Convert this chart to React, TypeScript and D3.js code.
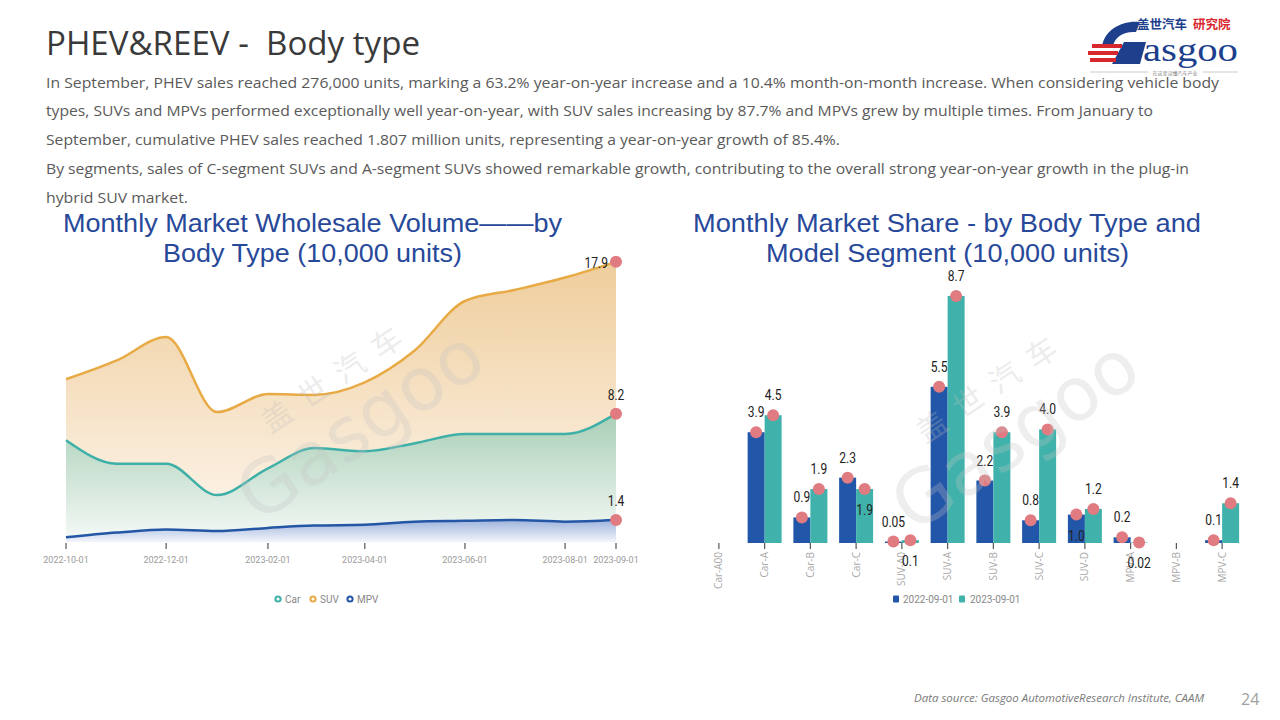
import React from 'react';
import * as d3 from 'd3';

// ---------- Data ----------
const months = ['2022-10-01','2022-11-01','2022-12-01','2023-01-01','2023-02-01','2023-03-01','2023-04-01','2023-05-01','2023-06-01','2023-07-01','2023-08-01','2023-09-01'];
const carValues = [6.5, 5.0, 5.0, 3.0, 4.7, 6.0, 5.8, 6.3, 6.9, 6.9, 6.9, 8.2];
const suvValues = [10.4, 11.6, 13.1, 8.3, 9.45, 9.4, 10.2, 12.2, 15.4, 16.1, 16.9, 17.9];
const mpvValues = [0.3, 0.6, 0.8, 0.7, 0.9, 1.05, 1.1, 1.3, 1.35, 1.4, 1.3, 1.4];
const timeTicks = ['2022-10-01','2022-12-01','2023-02-01','2023-04-01','2023-06-01','2023-08-01','2023-09-01'];

const segments = ['Car-A00','Car-A','Car-B','Car-C','SUV-A0','SUV-A','SUV-B','SUV-C','SUV-D','MPV-A','MPV-B','MPV-C'];
const sales2022: (number | null)[] = [null, 3.9, 0.9, 2.3, 0.05, 5.5, 2.2, 0.8, 1.0, 0.2, null, 0.1];
const sales2023: (number | null)[] = [null, 4.5, 1.9, 1.9, 0.1, 8.7, 3.9, 4.0, 1.2, 0.02, null, 1.4];
const barSeriesNames = ['2022-09-01', '2023-09-01'];

// label placement (style): 't' above the point, 'b' below
const place2022 = ['t','t','t','t','t','t','t','t','b','t','t','t'];
const place2023 = ['t','t','t','b','b','t','t','t','t','b','t','t'];

const paragraph = [
  'In September, PHEV sales reached 276,000 units, marking a 63.2% year-on-year increase and a 10.4% month-on-month increase. When considering vehicle body',
  'types, SUVs and MPVs performed exceptionally well year-on-year, with SUV sales increasing by 87.7% and MPVs grew by multiple times. From January to',
  'September, cumulative PHEV sales reached 1.807 million units, representing a year-on-year growth of 85.4%.',
  'By segments, sales of C-segment SUVs and A-segment SUVs showed remarkable growth, contributing to the overall strong year-on-year growth in the plug-in',
  'hybrid SUV market.',
];
const paragraphWidths = [1173, 1107, 794, 1143, 142];

// ---------- Styles ----------
const COND = "'Liberation Sans Narrow', 'Roboto', sans-serif";
const SANS = "'Open Sans', 'Noto Sans', sans-serif";
const TITLE_FONT = "'Liberation Sans', 'Noto Sans', sans-serif";
const C_CAR = '#3fb0a8';
const C_SUV = '#e8aa45';
const C_MPV = '#2456a6';
const C_BAR1 = '#2256a8';
const C_BAR2 = '#40b2ab';
const C_DOT = '#e07b82';
const TITLE_COLOR = '#28499a';

const parse = d3.timeParse('%Y-%m-%d');
const fmtBar = (v: number) => (v < 0.1 ? v.toFixed(2) : v.toFixed(1));

function Num({ x, y, anchor, children }: { x: number; y: number; anchor: string; children: React.ReactNode }) {
  return (
    <text transform={`translate(${x},${y}) scale(0.86,1.08)`} textAnchor={anchor} fontFamily={COND} fontSize={14} fill="#222">{children}</text>
  );
}

function Watermark({ x, y, angle }: { x: number; y: number; angle: number }) {
  return (
    <g transform={`translate(${x},${y}) rotate(${angle})`} opacity={0.28} pointerEvents="none">
      <text x={-10} y={-38} fontFamily="'Noto Sans CJK SC', sans-serif" fontSize={30} fill="#bdbdbd" letterSpacing={14}>盖世汽车</text>
      <text x={-70} y={30} fontFamily="'DejaVu Sans', sans-serif" fontSize={74} fill="#c4c4c4">Gasgoo</text>
    </g>
  );
}

function LeftChart() {
  const dates = months.map((m) => parse(m)!);
  const x = d3.scaleTime().domain([dates[0], dates[dates.length - 1]]).range([66, 616]);
  const y = d3.scaleLinear().domain([0, 20]).range([542, 229]);
  const mk = (vals: number[]) => vals.map((v, i) => ({ d: dates[i], v }));
  const area = d3.area<{ d: Date; v: number }>().x((p) => x(p.d)).y0(y(0)).y1((p) => y(p.v)).curve(d3.curveMonotoneX);
  const line = d3.line<{ d: Date; v: number }>().x((p) => x(p.d)).y((p) => y(p.v)).curve(d3.curveMonotoneX);
  const series = [
    { name: 'SUV', vals: suvValues, color: C_SUV, grad: 'gSuv' },
    { name: 'Car', vals: carValues, color: C_CAR, grad: 'gCar' },
    { name: 'MPV', vals: mpvValues, color: C_MPV, grad: 'gMpv' },
  ];
  const last = dates.length - 1;
  const legend = [
    { name: 'Car', color: C_CAR, x: 278 },
    { name: 'SUV', color: C_SUV, x: 313 },
    { name: 'MPV', color: C_MPV, x: 350 },
  ];
  return (
    <g>
      <defs>
        <linearGradient id="gSuv" gradientUnits="userSpaceOnUse" x1={0} y1={y(18)} x2={0} y2={y(0)}>
          <stop offset="0" stopColor="#efcd9b" />
          <stop offset="1" stopColor="#fdf7f0" />
        </linearGradient>
        <linearGradient id="gCar" gradientUnits="userSpaceOnUse" x1={0} y1={y(8.2)} x2={0} y2={y(0)}>
          <stop offset="0" stopColor="#a9cfb7" />
          <stop offset="1" stopColor="#f6faf7" />
        </linearGradient>
        <linearGradient id="gMpv" gradientUnits="userSpaceOnUse" x1={0} y1={y(1.4)} x2={0} y2={y(0)}>
          <stop offset="0" stopColor="#9fb4dc" />
          <stop offset="1" stopColor="#f2f5fb" />
        </linearGradient>
      </defs>
      {series.map((s) => (
        <path key={s.name + 'a'} d={area(mk(s.vals))!} fill={`url(#${s.grad})`} />
      ))}
      {series.map((s) => (
        <path key={s.name + 'l'} d={line(mk(s.vals))!} fill="none" stroke={s.color} strokeWidth={2.5} />
      ))}
      {series.map((s) => (
        <circle key={s.name + 'd'} cx={x(dates[last])} cy={y(s.vals[last])} r={6} fill={C_DOT} />
      ))}
      {series.map((s) =>
        s.name === 'SUV' ? (
          <Num key={s.name + 't'} x={x(dates[last]) - 8} y={y(s.vals[last]) + 6} anchor="end">{s.vals[last].toFixed(1)}</Num>
        ) : (
          <Num key={s.name + 't'} x={x(dates[last])} y={y(s.vals[last]) - 14} anchor="middle">{s.vals[last].toFixed(1)}</Num>
        )
      )}
      {timeTicks.map((t) => {
        const xx = x(parse(t)!);
        return (
          <g key={t}>
            <line x1={xx} x2={xx} y1={543} y2={549} stroke="#555" strokeWidth={1.2} />
            <text x={xx} y={563} textAnchor="middle" fontFamily={COND} fontSize={9} fill="#9a9a9a">{t}</text>
          </g>
        );
      })}
      {legend.map((l) => (
        <g key={l.name}>
          <circle cx={l.x} cy={599} r={2.6} fill="#fff" stroke={l.color} strokeWidth={2} />
          <text x={l.x + 7} y={602.5} fontFamily={COND} fontSize={10} fill="#888">{l.name}</text>
        </g>
      ))}
    </g>
  );
}

function RightChart() {
  const x = d3.scaleBand<string>().domain(segments).range([696, 1245]).padding(0);
  const y = d3.scaleLinear().domain([0, 10]).range([543, 259]);
  const bw = 17;
  const cx = (c: string) => x(c)! + x.bandwidth() / 2;
  const groups = [
    { vals: sales2022, color: C_BAR1, off: -bw, place: place2022 },
    { vals: sales2023, color: C_BAR2, off: 0, place: place2023 },
  ];
  return (
    <g>
      {groups.map((g, gi) =>
        segments.map((c, i) => {
          const v = g.vals[i];
          if (v == null) return null;
          return <rect key={`b${gi}-${c}`} x={cx(c) + g.off} y={y(v)} width={bw} height={y(0) - y(v)} fill={g.color} />;
        })
      )}
      {segments.map((c) => (
        <line key={'t' + c} x1={cx(c)} x2={cx(c)} y1={543} y2={549} stroke="#555" strokeWidth={1.2} />
      ))}
      {segments.map((c) => (
        <text key={'l' + c} transform={`translate(${cx(c) + 3.5},${552}) rotate(-90)`} textAnchor="end" fontFamily={SANS} fontSize={10} fill="#a8a8a8">{c}</text>
      ))}
      {groups.map((g, gi) =>
        segments.map((c, i) => {
          const v = g.vals[i];
          if (v == null) return null;
          return <circle key={`d${gi}-${c}`} cx={cx(c) + g.off + bw / 2} cy={y(v)} r={6} fill={C_DOT} />;
        })
      )}
      {groups.map((g, gi) =>
        segments.map((c, i) => {
          const v = g.vals[i];
          if (v == null) return null;
          const yy = g.place[i] === 'b' ? y(v) + 26 : y(v) - 15;
          return <Num key={`v${gi}-${c}`} x={cx(c) + g.off + bw / 2} y={yy} anchor="middle">{fmtBar(v)}</Num>;
        })
      )}
      {barSeriesNames.map((n, i) => (
        <g key={n}>
          <rect x={893 + i * 66} y={595.5} width={6} height={7} rx={1} fill={i === 0 ? C_BAR1 : C_BAR2} />
          <text x={903 + i * 67} y={602.5} fontFamily={COND} fontSize={10} fill="#888">{n}</text>
        </g>
      ))}
    </g>
  );
}

function Logo() {
  return (
    <g>
      <text x={1137} y={29} fontFamily="'Noto Sans CJK SC', sans-serif" fontWeight={700} fontSize={12.5} fill="#1d3f8c">盖世汽车</text>
      <text x={1193} y={29} fontFamily="'Noto Sans CJK SC', sans-serif" fontWeight={700} fontSize={12.5} fill="#d9272e">研究院</text>
      <path d="M1102,47 C1104,30 1122,20 1140,22 L1136,32 C1124,31 1114,37 1113,47 Z" fill="#1d3f8c" />
      <path d="M1124,42 L1146,42 L1140,64 L1112,64 Z" fill="#1d3f8c" />
      <rect x={1092} y={44} width={30} height={4} fill="#d9272e" />
      <rect x={1088} y={51} width={30} height={4} fill="#d9272e" />
      <rect x={1090} y={58} width={26} height={4} fill="#d9272e" />
      <text transform="translate(1143,61) scale(1,1.25)" fontFamily="'Liberation Serif', 'DejaVu Serif', serif" fontSize={27} fill="#1d3f8c" textLength={95} lengthAdjust="spacingAndGlyphs">asgoo</text>
      <line x1={1090} x2={1148} y1={72} y2={72} stroke="#aaa" strokeWidth={0.6} />
      <line x1={1203} x2={1238} y1={72} y2={72} stroke="#aaa" strokeWidth={0.6} />
      <text x={1175} y={74.5} textAnchor="middle" fontFamily="'Noto Sans CJK SC', sans-serif" fontSize={5} fill="#888">在这里读懂汽车产业</text>
    </g>
  );
}

export default function App() {
  return (
    <svg width={1280} height={720} viewBox="0 0 1280 720" style={{ position: 'absolute', left: 0, top: 0, background: '#fff' }}>
      <rect x={0} y={0} width={1280} height={720} fill="#fff" />
      <text x={46} y={55} fontFamily={SANS} fontSize={33} fill="#3a3a3a" textLength={374} lengthAdjust="spacingAndGlyphs" style={{ whiteSpace: 'pre' }}>{'PHEV&REEV -  Body type'}</text>
      <Logo />
      {paragraph.map((t, i) => (
        <text key={i} x={46} y={87.5 + i * 28.8} fontFamily={SANS} fontSize={14.5} fill="#5a5a5a" textLength={paragraphWidths[i]} lengthAdjust="spacingAndGlyphs">{t}</text>
      ))}
      <text x={312.5} y={232} textAnchor="middle" fontFamily={TITLE_FONT} fontSize={25} fill={TITLE_COLOR} textLength={499} lengthAdjust="spacingAndGlyphs">Monthly Market Wholesale Volume——by</text>
      <text x={312.5} y={262} textAnchor="middle" fontFamily={TITLE_FONT} fontSize={25} fill={TITLE_COLOR} textLength={299} lengthAdjust="spacingAndGlyphs">Body Type (10,000 units)</text>
      <text x={947} y={232} textAnchor="middle" fontFamily={TITLE_FONT} fontSize={25} fill={TITLE_COLOR} textLength={508} lengthAdjust="spacingAndGlyphs">Monthly Market Share - by Body Type and</text>
      <text x={947.5} y={262} textAnchor="middle" fontFamily={TITLE_FONT} fontSize={25} fill={TITLE_COLOR} textLength={363} lengthAdjust="spacingAndGlyphs">Model Segment (10,000 units)</text>
      <LeftChart />
      <RightChart />
      <Watermark x={300} y={460} angle={-34} />
      <Watermark x={955} y={470} angle={-34} />
      <text x={914} y={702} fontFamily={SANS} fontStyle="italic" fontSize={10.5} fill="#7a7a7a" textLength={290} lengthAdjust="spacingAndGlyphs">Data source: Gasgoo AutomotiveResearch Institute, CAAM</text>
      <text x={1241} y={705} fontFamily={SANS} fontSize={16} fill="#a0a0a0">24</text>
    </svg>
  );
}
